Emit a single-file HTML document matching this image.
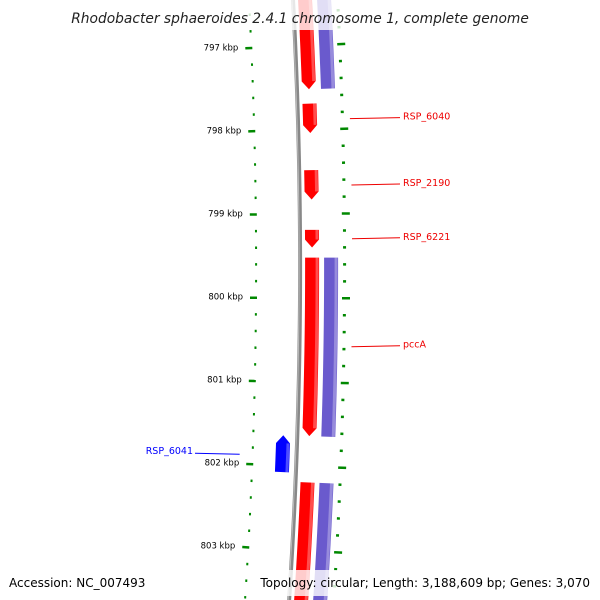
<!DOCTYPE html>
<html><head><meta charset="utf-8"><style>
html,body{margin:0;background:#fff;overflow:hidden;width:600px;height:600px}
svg{display:block;font-family:"DejaVu Sans","Liberation Sans",sans-serif;overflow:hidden}
</style></head><body>
<svg id="map" width="600" height="600" viewBox="0 0 600 600">
<g id="marks"></g>
<rect x="0" y="0" width="600" height="30" fill="#fff" fill-opacity="0.8"/>
<text x="300" y="23" text-anchor="middle" font-size="13.8" font-style="italic" fill="#222">Rhodobacter sphaeroides 2.4.1 chromosome 1, complete genome</text>
<rect x="258" y="570" width="336" height="26" fill="#fff" fill-opacity="0.8"/>
<text x="9" y="587" font-size="12" fill="#000">Accession: NC_007493</text>
<text x="590" y="587" text-anchor="end" font-size="12" fill="#000">Topology: circular; Length: 3,188,609 bp; Genes: 3,070</text>
</svg>
<script>
const tickKbp=[797,798,799,800,801,802,803];
const fwdGenes=[{s:796.0,e:797.52,n:""},{s:797.69,e:798.04,n:"RSP_6040"},{s:798.48,e:798.83,n:"RSP_2190"},{s:799.19,e:799.40,n:"RSP_6221"},{s:799.52,e:801.64,n:"pccA"},{s:802.19,e:804.0,n:""}];
const cogGenes=[{s:796.0,e:797.52},{s:799.52,e:801.64},{s:802.19,e:804.0}];
const revGenes=[{s:801.64,e:802.08,n:"RSP_6041"}];

const R=5056, CX=300.1-R, CY=267, K0=799.631, PXK=84;
const NS="http://www.w3.org/2000/svg";
const g=document.getElementById('marks');
function pt(k,off){const t=(k-K0)*PXK/R;const r=R+off;return [CX+r*Math.cos(t),CY+r*Math.sin(t)];}
function mk(tag,attrs){const e=document.createElementNS(NS,tag);for(const a in attrs)e.setAttribute(a,attrs[a]);g.appendChild(e);return e;}
function poly(pts){return pts.map(p=>p[0].toFixed(2)+','+p[1].toFixed(2)).join(' ');}
function arc(k1,k2,off){const a=[];for(let k=k1;k<k2;k+=0.05)a.push(pt(k,off));a.push(pt(k2,off));return a;}

let bb=mk('polyline',{points:poly(arc(796,804.2,0)),fill:'none',stroke:'#888',"stroke-width":4});


let bb2=mk('polyline',{points:poly(arc(796,804.2,-1)),fill:'none',stroke:'#bbb',"stroke-width":1});



for(let i=0;i<=40;i++){
  const k=796+i*0.2;
  const major=i%5===0;
  const a=pt(k,major?-50:-45), b=pt(k,-43);
  let t=mk('line',{x1:a[0],y1:a[1],x2:b[0],y2:b[1],stroke:'#080',"stroke-width":2.5});
  
  
  const c=pt(k,major?42:43), d=pt(k,major?50:46);
  let t2=mk('line',{x1:c[0],y1:c[1],x2:d[0],y2:d[1],stroke:'#080',"stroke-width":2.5});
  
  
}
tickKbp.forEach(k=>{const p=pt(k,-57);
  let t=mk('text',{x:p[0],y:p[1]+2,"text-anchor":"end","font-size":"8.5",fill:'#000'});t.textContent=k+' kbp';
  
  });

function gene(s,e,i0,i1,color,dir,name){
  const tip=8/PXK;let pts;
  const mid=(i0+i1)/2;
  if(dir>0){const ee=Math.max(s,e-tip);pts=arc(s,ee,i0).concat([pt(e,mid)]).concat(arc(s,ee,i1).reverse());}
  else if(dir<0){const ss=Math.min(e,s+tip);pts=[pt(s,mid)].concat(arc(ss,e,i0)).concat(arc(ss,e,i1).reverse());}
  else{pts=arc(s,e,i0).concat(arc(s,e,i1).reverse());}
  let p=mk('polygon',{points:poly(pts),fill:color});
  
  
  const h=arc(dir>0?s:(dir<0?Math.min(e,s+tip):s),dir>0?Math.max(s,e-tip):e,i1-2);
  let hl=mk('polyline',{points:poly(h),fill:'none',stroke:'#fff',"stroke-opacity":0.3,"stroke-width":3});
  
  
}
fwdGenes.forEach(d=>gene(d.s,d.e,5,19,'#f00',1,'gene-'+(d.n||'fwd').toLowerCase()));
cogGenes.forEach(d=>gene(d.s,d.e,24,38,'#6a5acd',0,'cog-block'));
revGenes.forEach(d=>gene(d.s,d.e,-21,-7,'#00f',-1,'gene-'+d.n.toLowerCase()));

function label(k,name,side,color){
  const y=pt(k,0)[1];
  if(side>0){const a=pt(k,50);
    let l=mk('line',{x1:a[0]+2,y1:y,x2:400,y2:y-1,stroke:color,"stroke-width":1});
    
    
    let t=mk('text',{x:403,y:y+1,"font-size":"9.5",fill:color});t.textContent=name;
    
    }
  else{const a=pt(k,-55);
    let l=mk('line',{x1:195,y1:y-1,x2:a[0]-2,y2:y,stroke:color,"stroke-width":1});
    
    
    let t=mk('text',{x:193,y:y,"font-size":"9.5","text-anchor":"end",fill:color});t.textContent=name;
    
    }
}
fwdGenes.forEach(d=>{if(d.n)label((d.s+d.e)/2,d.n,1,'#e00');});
revGenes.forEach(d=>label((d.s+d.e)/2,d.n,-1,'#00f'));
</script>
</body></html>
